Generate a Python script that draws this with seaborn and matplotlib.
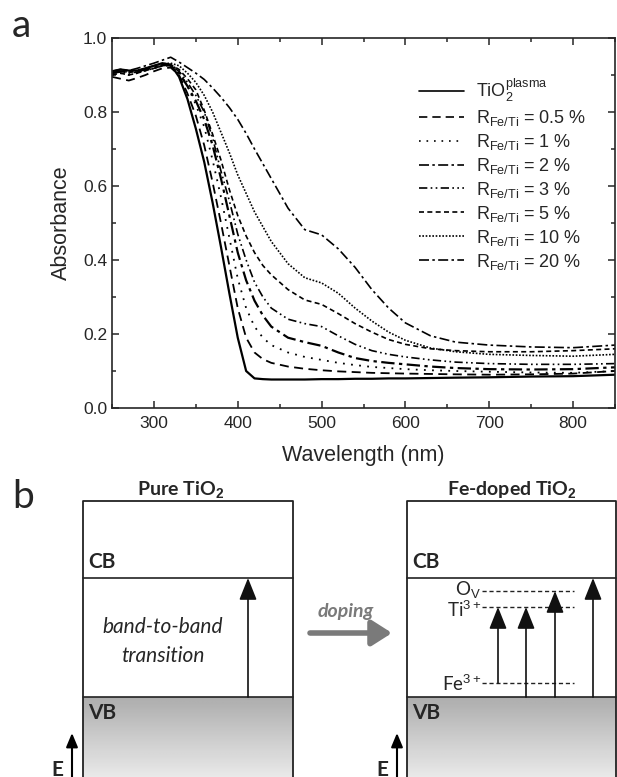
import matplotlib
matplotlib.use("Agg")
import matplotlib.pyplot as plt
import seaborn as sns
import numpy as np
import pandas as pd

# ---- absorbance spectra ----
wavelength = [250, 260, 270, 280, 290, 300, 310, 320, 330, 340, 350, 360, 370, 380, 390, 400,
              410, 420, 430, 440, 460, 480, 500, 520, 540, 560, 580, 600, 630, 660, 700, 750, 800, 850]

abs_tio2 = [0.910, 0.915, 0.912, 0.912, 0.918, 0.925, 0.932, 0.928, 0.895, 0.835, 0.755, 0.665, 0.555, 0.435, 0.310, 0.190,
            0.100, 0.080, 0.078, 0.077, 0.077, 0.077, 0.078, 0.078, 0.079, 0.079, 0.080, 0.080, 0.081, 0.082, 0.083, 0.085, 0.086, 0.090]
abs_r05 = [0.895, 0.890, 0.885, 0.892, 0.900, 0.910, 0.918, 0.920, 0.900, 0.850, 0.790, 0.710, 0.610, 0.500, 0.385, 0.270,
           0.190, 0.150, 0.132, 0.122, 0.112, 0.106, 0.102, 0.099, 0.097, 0.095, 0.094, 0.093, 0.092, 0.091, 0.090, 0.091, 0.093, 0.100]
abs_r1 = [0.900, 0.905, 0.900, 0.905, 0.912, 0.918, 0.925, 0.930, 0.910, 0.870, 0.820, 0.760, 0.670, 0.570, 0.460, 0.350,
          0.270, 0.220, 0.190, 0.170, 0.150, 0.138, 0.130, 0.122, 0.116, 0.111, 0.108, 0.105, 0.102, 0.100, 0.098, 0.096, 0.095, 0.100]
abs_r2 = [0.905, 0.910, 0.908, 0.910, 0.915, 0.920, 0.928, 0.925, 0.905, 0.870, 0.830, 0.780, 0.710, 0.620, 0.520, 0.420,
          0.345, 0.290, 0.250, 0.220, 0.190, 0.178, 0.168, 0.150, 0.135, 0.127, 0.122, 0.118, 0.112, 0.108, 0.105, 0.104, 0.105, 0.110]
abs_r3 = [0.905, 0.908, 0.905, 0.908, 0.912, 0.918, 0.925, 0.925, 0.910, 0.880, 0.845, 0.800, 0.730, 0.640, 0.560, 0.470,
          0.400, 0.340, 0.300, 0.270, 0.240, 0.228, 0.220, 0.195, 0.172, 0.155, 0.145, 0.138, 0.130, 0.124, 0.120, 0.118, 0.118, 0.120]
abs_r5 = [0.900, 0.905, 0.900, 0.905, 0.912, 0.918, 0.925, 0.928, 0.915, 0.890, 0.860, 0.805, 0.740, 0.670, 0.590, 0.520,
          0.465, 0.420, 0.385, 0.360, 0.320, 0.292, 0.280, 0.255, 0.228, 0.205, 0.185, 0.172, 0.160, 0.155, 0.152, 0.152, 0.155, 0.160]
abs_r10 = [0.905, 0.910, 0.908, 0.912, 0.918, 0.925, 0.930, 0.932, 0.925, 0.905, 0.880, 0.845, 0.800, 0.745, 0.690, 0.630,
           0.580, 0.530, 0.490, 0.450, 0.390, 0.352, 0.338, 0.310, 0.270, 0.235, 0.205, 0.183, 0.162, 0.152, 0.145, 0.142, 0.140, 0.145]
abs_r20 = [0.910, 0.915, 0.912, 0.918, 0.925, 0.932, 0.940, 0.948, 0.935, 0.920, 0.905, 0.888, 0.865, 0.840, 0.812, 0.780,
           0.742, 0.700, 0.660, 0.620, 0.540, 0.482, 0.468, 0.430, 0.380, 0.320, 0.270, 0.230, 0.195, 0.178, 0.170, 0.165, 0.163, 0.170]

series_labels = [r'TiO$_2^{\rm plasma}$',
                 r'R$_{\rm Fe/Ti}$ = 0.5 %',
                 r'R$_{\rm Fe/Ti}$ = 1 %',
                 r'R$_{\rm Fe/Ti}$ = 2 %',
                 r'R$_{\rm Fe/Ti}$ = 3 %',
                 r'R$_{\rm Fe/Ti}$ = 5 %',
                 r'R$_{\rm Fe/Ti}$ = 10 %',
                 r'R$_{\rm Fe/Ti}$ = 20 %']
series_values = [abs_tio2, abs_r05, abs_r1, abs_r2, abs_r3, abs_r5, abs_r10, abs_r20]

# ---- band diagram levels (pixel rows of the schematic) ----
box_top, cb_level, vb_level = 501, 578, 697
defect_labels = [r'O$_{\rm V}$', r'Ti$^{3+}$', r'Fe$^{3+}$']
defect_levels = [591, 607, 683]

rows = []
for lab, vals in zip(series_labels, series_values):
  for w, a in zip(wavelength, vals):
    rows.append((lab, w, a))
df = pd.DataFrame(rows, columns=['sample', 'wavelength', 'absorbance'])

sns.set_theme(style="ticks")
plt.rcParams['font.family'] = ['Liberation Sans', 'DejaVu Sans']
plt.rcParams['mathtext.fontset'] = 'custom'
plt.rcParams['mathtext.rm'] = 'Liberation Sans'
plt.rcParams['mathtext.it'] = 'Liberation Sans:italic'
plt.rcParams['mathtext.bf'] = 'Liberation Sans:bold'

W, H = 617, 777
fig = plt.figure(figsize=(W / 100, H / 100), dpi=100)
ax = fig.add_axes([112 / W, 1 - 408 / H, (615 - 112) / W, (408 - 38) / H])

dash_map = {
  series_labels[0]: "",
  series_labels[1]: (5, 3),
  series_labels[2]: (1, 3.5),
  series_labels[3]: (6, 2, 1.5, 2),
  series_labels[4]: (5, 2, 1, 2, 1, 2),
  series_labels[5]: (3, 2),
  series_labels[6]: (1, 1),
  series_labels[7]: (6, 2, 1.5, 2),
}
sns.lineplot(data=df, x='wavelength', y='absorbance', hue='sample', style='sample',
             dashes=dash_map, palette=['black'] * 8, linewidth=1.2, ax=ax)
for ln, lw in zip(ax.lines, [1.6, 1.3, 1.3, 1.6, 1.2, 1.2, 1.2, 1.2]):
  ln.set_linewidth(lw)

ax.set_xlim(250, 850)
ax.set_ylim(0, 1.0)
ax.set_xticks([300, 400, 500, 600, 700, 800])
ax.set_xticks(np.arange(250, 851, 50), minor=True)
ax.set_yticks([0.0, 0.2, 0.4, 0.6, 0.8, 1.0])
ax.set_yticks(np.arange(0, 1.01, 0.1), minor=True)
ax.tick_params(which='both', direction='in', top=True, right=True, labelsize=12.5, width=1.1)
ax.tick_params(which='major', length=5)
ax.tick_params(which='minor', length=3)
ax.tick_params(axis='x', pad=6)
for s in ax.spines.values():
  s.set_linewidth(1.2)
ax.set_xlabel('Wavelength (nm)', fontsize=15.5, labelpad=10)
ax.set_ylabel('Absorbance', fontsize=15.5, labelpad=8)

handles, labels = ax.get_legend_handles_labels()
ax.legend(handles, labels, loc='upper left', bbox_to_anchor=(0.595, 0.915), frameon=False,
          fontsize=13, handlelength=2.5, handletextpad=0.7, labelspacing=0.22, borderaxespad=0)

fig.text(12 / W, 1 - 26 / H, 'a', fontsize=28, family='Lato', va='center', ha='left')

# ---- panel b: band diagrams ----
bx = fig.add_axes([0, 0, 1, (H - 478) / H])
bx.set_xlim(0, W)
bx.set_ylim(H, 478)
bx.axis('off')

lato = ['Lato', 'DejaVu Sans']
grad = np.linspace(0.68, 0.92, 64).reshape(-1, 1)
for x0, x1 in [(83, 293), (407, 616)]:
  bx.imshow(grad, cmap='gray', vmin=0, vmax=1, extent=[x0, x1, H + 2, vb_level], aspect='auto', zorder=1)
  bx.plot([x0, x0, x1, x1], [H + 5, box_top, box_top, H + 5], color='#222222', lw=1.3, zorder=3)
  bx.plot([x0, x1], [cb_level, cb_level], color='#222222', lw=1.2, zorder=3)
  bx.plot([x0, x1], [vb_level, vb_level], color='#222222', lw=1.2, zorder=3)
  bx.text(x0 + 5, cb_level - 16, 'CB', fontsize=15, fontweight='bold', family=lato, va='center', zorder=4)
  bx.text(x0 + 5, vb_level + 16, 'VB', fontsize=15, fontweight='bold', family=lato, va='center', zorder=4)
bx.set_xlim(0, W)
bx.set_ylim(H, 478)

bx.text(181, 490, r'Pure TiO$_{\mathbf{2}}$', fontsize=14, fontweight='bold', family=lato, ha='center', va='center')
bx.text(512, 490, r'Fe-doped TiO$_{\mathbf{2}}$', fontsize=14, fontweight='bold', family=lato, ha='center', va='center')
bx.text(12, 497, 'b', fontsize=28, family=lato, ha='left', va='center')

arr = dict(arrowstyle='-|>,head_width=0.3,head_length=0.75', color='#111111', lw=1.2,
           mutation_scale=18, shrinkA=0, shrinkB=0)
bx.annotate('', xy=(248, cb_level), xytext=(248, vb_level), arrowprops=arr, zorder=5)
bx.text(163, 627, 'band-to-band', fontsize=15, style='italic', family=lato, ha='center', va='center')
bx.text(163, 656, 'transition', fontsize=15, style='italic', family=lato, ha='center', va='center')

bx.annotate('', xy=(392, 633), xytext=(310, 633),
            arrowprops=dict(arrowstyle='-|>,head_width=0.35,head_length=0.55', color='#7a7a7a', lw=4,
                            mutation_scale=22, shrinkA=0, shrinkB=0))
bx.text(346, 612, 'doping', fontsize=14, style='italic', fontweight='bold', color='#7a7a7a',
        family=lato, ha='center', va='center')

for lab, lev, dy in zip(defect_labels, defect_levels, [-2, 3, 1]):
  bx.plot([482, 574], [lev, lev], color='#222222', lw=1.0, dashes=(3, 2))
  bx.text(481, lev + dy, lab, fontsize=13.5, family=lato, ha='right', va='center')

bx.annotate('', xy=(498, defect_levels[1]), xytext=(498, defect_levels[2]), arrowprops=arr, zorder=5)
bx.annotate('', xy=(526, defect_levels[1]), xytext=(526, vb_level), arrowprops=arr, zorder=5)
bx.annotate('', xy=(555, defect_levels[0]), xytext=(555, vb_level), arrowprops=arr, zorder=5)
bx.annotate('', xy=(593, cb_level), xytext=(593, vb_level), arrowprops=arr, zorder=5)

for ex in [72, 397]:
  bx.annotate('', xy=(ex, 733), xytext=(ex, H + 3),
              arrowprops=dict(arrowstyle='-|>,head_width=0.25,head_length=0.6', color='black', lw=1.5,
                              mutation_scale=14, shrinkA=0, shrinkB=0))
  bx.text(ex - 15, 770, 'E', fontsize=15, fontweight='bold', family=lato, ha='center', va='center')

fig.savefig('out.png', dpi=100)
